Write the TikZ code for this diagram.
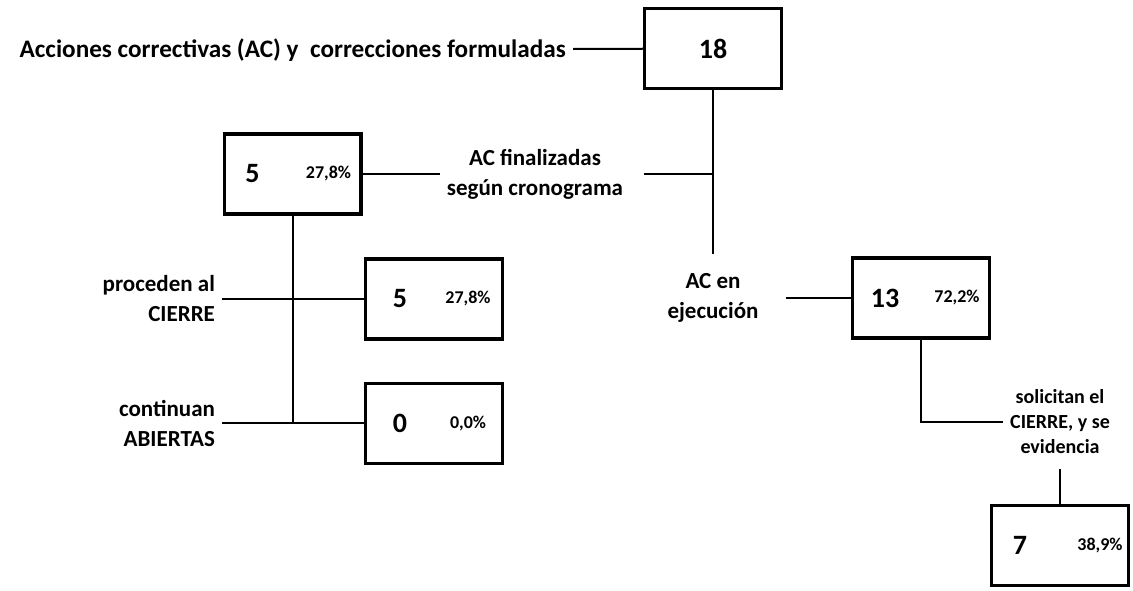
\documentclass[tikz,border=0pt]{standalone}
\usepackage{fontspec}
\setmainfont{Carlito}
\usetikzlibrary{positioning, calc}

\begin{document}
\begin{tikzpicture}[
    x=0.5pt, y=0.5pt,
    valbox/.style={rectangle, draw, line width=1.6pt, minimum width=68.4pt, minimum height=40pt, inner sep=0pt},
    num/.style={font=\bfseries\fontsize{14}{16}\selectfont},
    pct/.style={font=\bfseries\fontsize{9}{10}\selectfont},
    tag/.style={font=\bfseries\fontsize{11.5}{15}\selectfont, align=center},
    smalltag/.style={font=\bfseries\fontsize{10}{12.5}\selectfont, align=center},
    line/.style={line width=1pt}
]
\useasboundingbox (0,0) rectangle (1133,590);

\node[valbox] (total) at (713,541.5) {};
\node[num] (totalnum) at (total) {18};
\node[tag, anchor=east, font=\bfseries\fontsize{12.6}{15}\selectfont] (title) at (573,540) {Acciones correctivas (AC) y\ \ correcciones formuladas};

\node[valbox] (fin) at (292.5,416) {};
\node[num] (finnum) at ([xshift=15pt]fin.west) {5};
\node[pct] (finpct) at ([xshift=-17pt]fin.east) {27,8\%};
\node[tag] (fintxt) at (535,416) {AC finalizadas\\según cronograma};

\node[valbox] (cierre) at (434,291) {};
\node[num] (cierrenum) at ([xshift=18pt]cierre.west) {5};
\node[pct] (cierrepct) at ([xshift=-18pt]cierre.east) {27,8\%};
\node[tag, align=right, anchor=east] (cierretxt) at (222,291) {proceden al\\CIERRE};

\node[valbox, below=20.5pt of cierre] (abiertas) {};
\node[num] (abiertasnum) at ([xshift=18pt]abiertas.west) {0};
\node[pct] (abiertaspct) at ([xshift=-18pt]abiertas.east) {0,0\%};
\node[tag, align=right, anchor=east] (abiertastxt) at (cierretxt.east |- abiertas) {continuan\\ABIERTAS};

\node[tag] (ejectxt) at (713,292) {AC en\\ejecución};
\node[valbox] (ejec) at (921,292) {};
\node[num] (ejecnum) at ([xshift=17pt]ejec.west) {13};
\node[pct] (ejecpct) at ([xshift=-17pt]ejec.east) {72,2\%};

\node[smalltag] (evidtxt) at (1060,168) {solicitan el\\CIERRE, y se\\evidencia};
\node[valbox] (evid) at (1060,44.5) {};
\node[num] (evidnum) at ([xshift=15pt]evid.west) {7};
\node[pct] (evidpct) at ([xshift=-15pt]evid.east) {38,9\%};

\coordinate (finjoin) at (total |- fin);
\coordinate (abjoin) at (fin.south |- abiertas);

\draw[line] (title) -- (total);
\draw[line, shorten >=6pt] (total) -- (ejectxt);
\draw[line, shorten >=7pt] (finjoin) -- (fintxt);
\draw[line] (fintxt) -- (fin);
\draw[line] (fin) -- (abjoin);
\draw[line] (cierretxt) -- (cierre);
\draw[line] (abiertastxt) -- (abiertas);
\draw[line, shorten <=10pt] (ejectxt) -- (ejec);
\draw[line] (ejec) |- (evidtxt);
\draw[line, shorten <=4pt] (evidtxt) -- (evid);

\end{tikzpicture}
\end{document}
